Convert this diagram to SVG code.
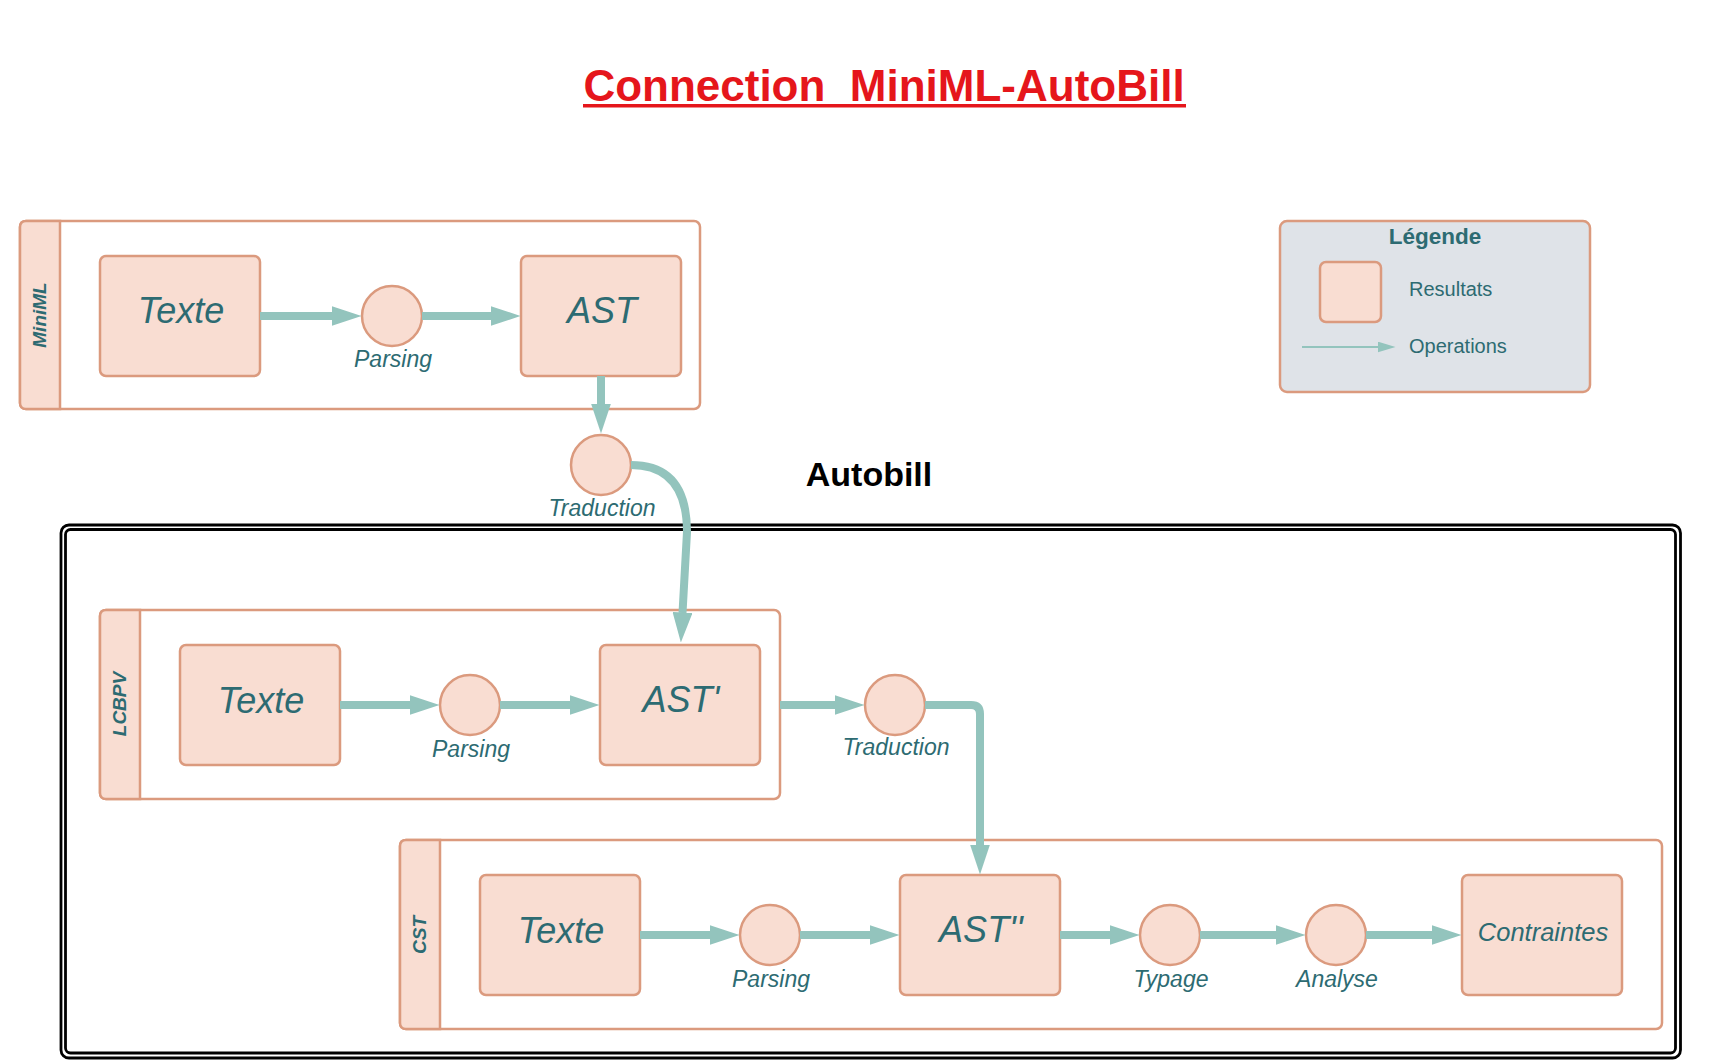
<svg xmlns="http://www.w3.org/2000/svg" width="1736" height="1060" viewBox="0 0 1736 1060">
<defs>
<marker id="ah" markerUnits="userSpaceOnUse" viewBox="0 0 30 20" markerWidth="30" markerHeight="20" refX="0.5" refY="10" orient="auto"><path d="M0,0 L30,10 L0,20 Z" fill="#93c4bd"/></marker>
<marker id="ahs" markerUnits="userSpaceOnUse" viewBox="0 0 18 11" markerWidth="18" markerHeight="11" refX="0.5" refY="5.5" orient="auto"><path d="M0,0 L18,5.5 L0,11 Z" fill="#93c4bd"/></marker>
</defs>
<style>
.cont{fill:#ffffff;stroke:#db9a7e;stroke-width:2.5}
.strip{fill:#f9ddd2;stroke:#db9a7e;stroke-width:2.5}
.box{fill:#f9ddd2;stroke:#db9a7e;stroke-width:2.5}
.op{fill:#f9ddd2;stroke:#db9a7e;stroke-width:2.5}
.big{font-family:"Liberation Sans",Arial,sans-serif;font-style:italic;font-size:36px;fill:#2d6b72;text-anchor:middle}
.lab{font-family:"Liberation Sans",Arial,sans-serif;font-style:italic;font-size:23px;fill:#2d6b72;text-anchor:middle}
.hdr{font-family:"Liberation Sans",Arial,sans-serif;font-style:italic;font-weight:bold;font-size:19px;fill:#2d6b72;text-anchor:middle}
.leg{font-family:"Liberation Sans",Arial,sans-serif;font-size:20px;fill:#2d6b72}
.conn{fill:none;stroke:#93c4bd;stroke-width:8;marker-end:url(#ah)}
</style>
<rect width="1736" height="1060" fill="#ffffff"/>
<g id="title">
<text x="884" y="101" font-family="'Liberation Sans',Arial,sans-serif" font-weight="bold" font-size="44" fill="#e5161b" text-anchor="middle" xml:space="preserve" style="white-space:pre">Connection  MiniML-AutoBill</text>
<rect x="583" y="104" width="603" height="3.5" fill="#e5161b"/>
</g>
<g id="autobill">
<rect x="61" y="525" width="1619.5" height="533" rx="8" fill="none" stroke="#000" stroke-width="2.8"/>
<rect x="65.5" y="529.5" width="1610" height="523.5" rx="5" fill="none" stroke="#000" stroke-width="2.8"/>
<text x="869" y="486" font-family="'Liberation Sans',Arial,sans-serif" font-weight="bold" font-size="34" fill="#000" text-anchor="middle">Autobill</text>
</g>
<g id="miniml">
<rect class="cont" x="20" y="221" width="680" height="188" rx="6"/>
<path class="strip" d="M60,221 L26,221 Q20,221 20,227 L20,403 Q20,409 26,409 L60,409 Z"/>
<text class="hdr" transform="translate(46,315) rotate(-90)">MiniML</text>
</g>
<g id="miniml-texte"><rect class="box" x="100" y="256" width="160" height="120" rx="6"/><text class="big" x="181" y="323">Texte</text></g>
<g id="miniml-parsing"><circle class="op" cx="392" cy="316" r="30"/><text class="lab" x="393" y="367">Parsing</text></g>
<g id="miniml-ast"><rect class="box" x="521" y="256" width="160" height="120" rx="6"/><text class="big" x="602" y="323">AST</text></g>
<g id="traduction1"><circle class="op" cx="601" cy="465" r="30"/><text class="lab" x="602" y="516">Traduction</text></g>
<g id="lcbpv">
<rect class="cont" x="100" y="610" width="680" height="189" rx="6"/>
<path class="strip" d="M140,610 L106,610 Q100,610 100,616 L100,793 Q100,799 106,799 L140,799 Z"/>
<text class="hdr" transform="translate(126,704) rotate(-90)">LCBPV</text>
</g>
<g id="lcbpv-texte"><rect class="box" x="180" y="645" width="160" height="120" rx="6"/><text class="big" x="261" y="713">Texte</text></g>
<g id="lcbpv-parsing"><circle class="op" cx="470" cy="705" r="30"/><text class="lab" x="471" y="757">Parsing</text></g>
<g id="lcbpv-ast"><rect class="box" x="600" y="645" width="160" height="120" rx="6"/><text class="big" x="681" y="712">AST'</text></g>
<g id="traduction2"><circle class="op" cx="895" cy="705" r="30"/><text class="lab" x="896" y="755">Traduction</text></g>
<g id="cst">
<rect class="cont" x="400" y="840" width="1262" height="189" rx="6"/>
<path class="strip" d="M440,840 L406,840 Q400,840 400,846 L400,1023 Q400,1029 406,1029 L440,1029 Z"/>
<text class="hdr" transform="translate(426,935) rotate(-90)">CST</text>
</g>
<g id="cst-texte"><rect class="box" x="480" y="875" width="160" height="120" rx="6"/><text class="big" x="561" y="943">Texte</text></g>
<g id="cst-parsing"><circle class="op" cx="770" cy="935" r="30"/><text class="lab" x="771" y="987">Parsing</text></g>
<g id="cst-ast"><rect class="box" x="900" y="875" width="160" height="120" rx="6"/><text class="big" x="981" y="942">AST''</text></g>
<g id="typage"><circle class="op" cx="1170" cy="935" r="30"/><text class="lab" x="1171" y="987">Typage</text></g>
<g id="analyse"><circle class="op" cx="1336" cy="935" r="30"/><text class="lab" x="1337" y="987">Analyse</text></g>
<g id="contraintes"><rect class="box" x="1462" y="875" width="160" height="120" rx="6"/><text class="big" x="1543" y="941" style="font-size:25.5px">Contraintes</text></g>
<g id="legend">
<rect x="1280" y="221" width="310" height="171" rx="7" fill="#dfe3e8" stroke="#db9a7e" stroke-width="2.5"/>
<text x="1435" y="244" font-family="'Liberation Sans',Arial,sans-serif" font-weight="bold" font-size="22.5" fill="#2d6b72" text-anchor="middle">Légende</text>
<rect class="box" x="1320" y="262" width="61" height="60" rx="6"/>
<text class="leg" x="1409" y="296">Resultats</text>
<path d="M1302,347 L1378,347" stroke="#93c4bd" stroke-width="2" fill="none" marker-end="url(#ahs)"/>
<text class="leg" x="1409" y="353">Operations</text>
</g>
<g id="connectors">
<path class="conn" d="M260,316 L332,316"/>
<path class="conn" d="M422,316 L491,316"/>
<path class="conn" d="M601,376 L601,404"/>
<path class="conn" d="M631,465 C672,465 687,492 687,532 L682.5,613"/>
<path class="conn" d="M340,705 L410,705"/>
<path class="conn" d="M500,705 L570,705"/>
<path class="conn" d="M780,705 L835,705"/>
<path class="conn" d="M925,705 L971,705 Q980,705 980,714 L980,845"/>
<path class="conn" d="M640,935 L710,935"/>
<path class="conn" d="M800,935 L870,935"/>
<path class="conn" d="M1060,935 L1110,935"/>
<path class="conn" d="M1200,935 L1276,935"/>
<path class="conn" d="M1366,935 L1432,935"/>
</g>
</svg>
